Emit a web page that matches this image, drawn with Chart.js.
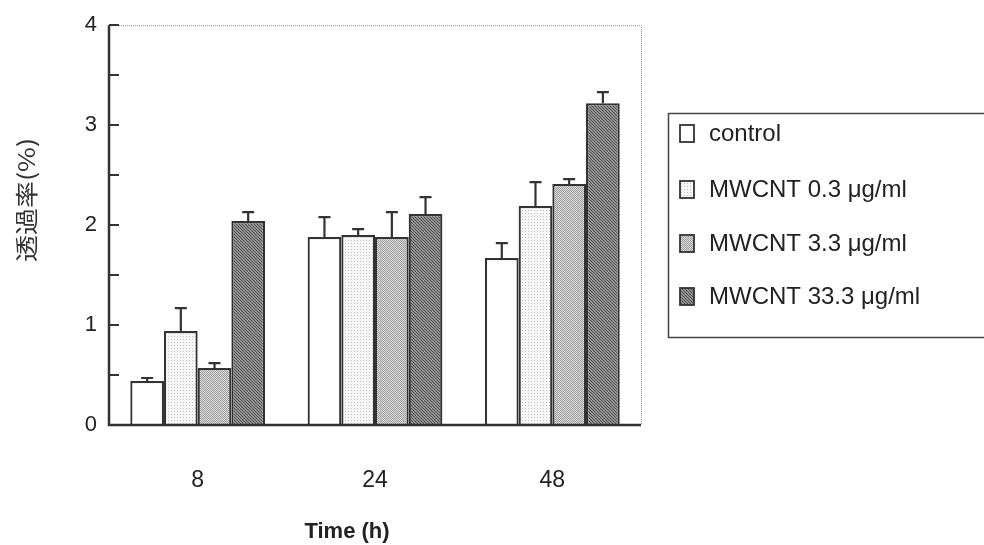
<!DOCTYPE html>
<html><head><meta charset="utf-8">
<script src="https://cdn.jsdelivr.net/npm/chart.js@4.4.1/dist/chart.umd.min.js"></script>
<style>html,body{margin:0;padding:0;background:#fff}#wrap{width:984px;height:545px}</style>
</head><body><div id="wrap"><canvas id="c" width="984" height="545"></canvas></div>
<script>
const categories = ['8', '24', '48'];
const seriesNames = ['control', 'MWCNT 0.3 \u03bcg/ml', 'MWCNT 3.3 \u03bcg/ml', 'MWCNT 33.3 \u03bcg/ml'];
const control = [0.44, 1.88, 1.67];
const mw03 = [0.94, 1.90, 2.19];
const mw33 = [0.57, 1.88, 2.41];
const mw333 = [2.04, 2.11, 3.22];
const controlErr = [0.03, 0.20, 0.15];
const mw03Err = [0.23, 0.06, 0.24];
const mw33Err = [0.05, 0.25, 0.05];
const mw333Err = [0.09, 0.17, 0.11];
const yTickValues = [0, 1, 2, 3, 4];
const yTitle = '透過率(%)';
const xTitle = 'Time (h)';

function makePattern(kind) {
  const c = document.createElement('canvas');
  const ctx = c.getContext('2d');
  if (kind === 'white') { c.width = c.height = 2; ctx.fillStyle = '#fff'; ctx.fillRect(0,0,2,2); }
  else if (kind === 'light') {
    c.width = c.height = 3; ctx.fillStyle = '#f6f6f6'; ctx.fillRect(0,0,3,3);
    ctx.fillStyle = '#c4c4c4'; ctx.fillRect(0,0,1,1);
  } else if (kind === 'mid') {
    c.width = c.height = 2; ctx.fillStyle = '#d6d6d6'; ctx.fillRect(0,0,2,2);
    ctx.fillStyle = '#a2a2a2'; ctx.fillRect(0,0,1,1); ctx.fillRect(1,1,1,1);
  } else {
    c.width = c.height = 3; ctx.fillStyle = '#8e8e8e'; ctx.fillRect(0,0,3,3);
    ctx.fillStyle = '#585858'; ctx.fillRect(0,0,1,1); ctx.fillRect(1,1,1,1); ctx.fillRect(2,2,1,1);
  }
  return document.getElementById('c').getContext('2d').createPattern(c, 'repeat');
}
const fills = [makePattern('white'), makePattern('light'), makePattern('mid'), makePattern('dark')];
const values = [control, mw03, mw33, mw333];
const errs = [controlErr, mw03Err, mw33Err, mw333Err];
const FONT = '"Liberation Sans", Arial, sans-serif';

const decor = {
  id: 'decor',
  afterDatasetsDraw(chart) {
    const ctx = chart.ctx, y = chart.scales.y, a = chart.chartArea;
    ctx.save();
    // error bars
    ctx.strokeStyle = '#333'; ctx.lineWidth = 2.2;
    chart.data.datasets.forEach((ds, i) => {
      const meta = chart.getDatasetMeta(i);
      meta.data.forEach((el, j) => {
        const top = y.getPixelForValue(values[i][j] + errs[i][j]);
        ctx.beginPath();
        ctx.moveTo(el.x, el.y); ctx.lineTo(el.x, top);
        ctx.moveTo(el.x - 6, top); ctx.lineTo(el.x + 6, top);
        ctx.stroke();
      });
    });
    // frame
    ctx.strokeStyle = '#888'; ctx.lineWidth = 1; ctx.setLineDash([1, 1]);
    ctx.beginPath();
    ctx.moveTo(a.left, a.top + 0.5); ctx.lineTo(a.right + 0.5, a.top + 0.5); ctx.lineTo(a.right + 0.5, a.bottom);
    ctx.stroke();
    ctx.setLineDash([]);
    ctx.strokeStyle = '#333'; ctx.lineWidth = 2.5;
    ctx.beginPath();
    ctx.moveTo(a.left, a.top); ctx.lineTo(a.left, a.bottom); ctx.lineTo(a.right, a.bottom);
    ctx.stroke();
    // inward ticks every 0.5
    ctx.lineWidth = 2;
    y.ticks.forEach(t => {
      const py = Math.round(y.getPixelForValue(t.value));
      ctx.beginPath(); ctx.moveTo(a.left, py); ctx.lineTo(a.left + 10, py); ctx.stroke();
    });
    // y title
    ctx.fillStyle = '#333';
    ctx.font = '23px "Noto Sans CJK JP"';
    const w = ctx.measureText(yTitle).width;
    ctx.translate(26, 200); ctx.rotate(-Math.PI / 2);
    ctx.scale(124 / w, 1);
    ctx.textAlign = 'center'; ctx.textBaseline = 'middle';
    ctx.fillText(yTitle, 0, 0);
    ctx.setTransform(1, 0, 0, 1, 0, 0);
    // x title
    ctx.font = 'bold 22px ' + FONT;
    ctx.fillStyle = '#222';
    ctx.textAlign = 'center'; ctx.textBaseline = 'middle';
    ctx.fillText(xTitle, 347, 532);
    // legend
    ctx.strokeStyle = '#444'; ctx.lineWidth = 1.5;
    ctx.strokeRect(668.5, 113.5, 330, 224);
    const rows = [133, 189, 243, 296];
    ctx.font = '24px ' + FONT;
    ctx.textAlign = 'left'; ctx.textBaseline = 'middle';
    seriesNames.forEach((n, i) => {
      ctx.fillStyle = fills[i];
      ctx.fillRect(680, rows[i] - 8, 14, 17);
      ctx.strokeStyle = '#333'; ctx.lineWidth = 1.8;
      ctx.strokeRect(680, rows[i] - 8, 14, 17);
      ctx.fillStyle = '#222';
      ctx.fillText(n, 709, rows[i] + 1);
    });
    ctx.restore();
  }
};

new Chart(document.getElementById('c'), {
  type: 'bar',
  data: {
    labels: categories,
    datasets: seriesNames.map((n, i) => ({
      label: n, data: values[i], backgroundColor: fills[i],
      borderColor: '#333', borderWidth: 2.2, borderSkipped: 'bottom',
      categoryPercentage: 0.76, barPercentage: 1.0
    }))
  },
  options: {
    responsive: false, animation: false,
    layout: { padding: { left: 0, top: 25, right: 343, bottom: 0 } },
    plugins: { legend: { display: false }, tooltip: { enabled: false } },
    scales: {
      x: {
        grid: { display: false, drawTicks: false }, border: { display: false },
        ticks: { color: '#222', font: { size: 23, family: FONT }, padding: 42 },
        afterFit(s) { s.height = 120; }
      },
      y: {
        min: 0, max: 4,
        grid: { display: false, drawTicks: false }, border: { display: false },
        ticks: {
          stepSize: 0.5, color: '#222', padding: 12,
          font: { size: 22, family: FONT },
          callback: v => yTickValues.includes(v) ? String(v) : ''
        },
        afterFit(s) { s.width = 109; }
      }
    }
  },
  plugins: [decor]
});
</script></body></html>
